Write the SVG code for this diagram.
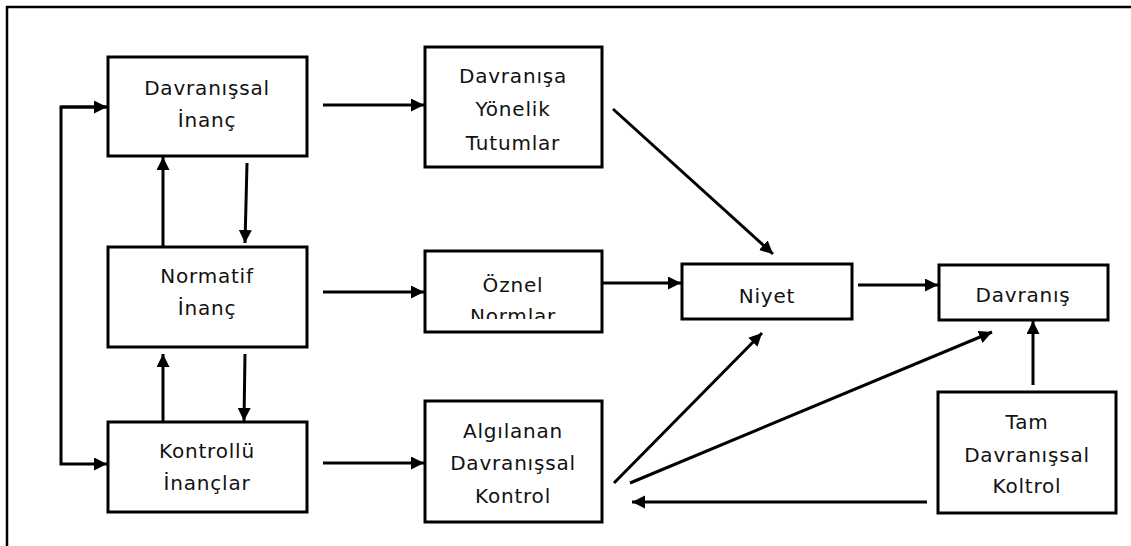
<svg xmlns="http://www.w3.org/2000/svg" width="1131" height="546" viewBox="0 0 1131 546">
<style>
.box{fill:#fff;stroke:#000;stroke-width:3}
.t{font-family:"DejaVu Sans",Verdana,sans-serif;font-size:20px;fill:#111;text-anchor:middle;letter-spacing:0.8px}
.c{fill:none;stroke:#000;stroke-width:3;marker-end:url(#ah)}
.b{fill:none;stroke:#000;stroke-width:2.5}
</style>
<defs>
<marker id="ah" markerUnits="userSpaceOnUse" markerWidth="14" markerHeight="14" refX="13" refY="6.5" orient="auto">
<path d="M0,0 L13,6.5 L0,13 z" fill="#000"/>
</marker>
<clipPath id="clipN"><rect x="425" y="250" width="177" height="69"/></clipPath>
</defs>
<rect width="1131" height="546" fill="#fff"/>
<g id="frame">
<line class="b" x1="6" y1="7" x2="1131" y2="7"/>
<line class="b" x1="7" y1="6" x2="7" y2="546"/>
</g>
<g id="n1"><rect class="box" x="108" y="57" width="199" height="99"/>
<text class="t" x="207" y="95">Davranışsal</text><text class="t" x="207" y="127">İnanç</text></g>
<g id="n2"><rect class="box" x="425" y="47" width="177" height="120"/>
<text class="t" x="513" y="83">Davranışa</text><text class="t" x="513" y="116">Yönelik</text><text class="t" x="513" y="150">Tutumlar</text></g>
<g id="n3"><rect class="box" x="108" y="247" width="199" height="100"/>
<text class="t" x="207" y="283">Normatif</text><text class="t" x="207" y="315">İnanç</text></g>
<g id="n4"><rect class="box" x="425" y="251" width="177" height="81"/>
<text class="t" x="513" y="292">Öznel</text><text class="t" x="513" y="323" clip-path="url(#clipN)">Normlar</text></g>
<g id="n5"><rect class="box" x="682" y="264" width="170" height="55"/>
<text class="t" x="767" y="303">Niyet</text></g>
<g id="n6"><rect class="box" x="939" y="265" width="169" height="55"/>
<text class="t" x="1023" y="302">Davranış</text></g>
<g id="n7"><rect class="box" x="108" y="422" width="199" height="90"/>
<text class="t" x="207" y="458">Kontrollü</text><text class="t" x="207" y="490">İnançlar</text></g>
<g id="n8"><rect class="box" x="425" y="401" width="177" height="121"/>
<text class="t" x="513" y="438">Algılanan</text><text class="t" x="513" y="470">Davranışsal</text><text class="t" x="513" y="503">Kontrol</text></g>
<g id="n9"><rect class="box" x="938" y="392" width="178" height="121"/>
<text class="t" x="1027" y="429">Tam</text><text class="t" x="1027" y="462">Davranışsal</text><text class="t" x="1027" y="493">Koltrol</text></g>
<g id="connectors">
<path class="c" d="M106,107 H61 V464 H107"/>
<line class="c" x1="61" y1="107" x2="107" y2="107"/>
<line class="c" x1="163" y1="247" x2="163" y2="157"/>
<line class="c" x1="247" y1="163" x2="245" y2="243"/>
<line class="c" x1="163" y1="422" x2="163" y2="354"/>
<line class="c" x1="245" y1="354" x2="244" y2="421"/>
<line class="c" x1="323" y1="105" x2="424" y2="105"/>
<line class="c" x1="323" y1="292" x2="424" y2="292"/>
<line class="c" x1="323" y1="463" x2="424" y2="463"/>
<line class="c" x1="602" y1="283" x2="681" y2="283"/>
<line class="c" x1="858" y1="285" x2="938" y2="285"/>
<line class="c" x1="927" y1="502" x2="632" y2="502"/>
<line class="c" x1="1033" y1="385" x2="1033" y2="321"/>
<line class="c" x1="613" y1="109" x2="773" y2="254"/>
<line class="c" x1="614" y1="483" x2="762" y2="333"/>
<line class="c" x1="630" y1="483" x2="992" y2="332"/>
</g>
</svg>
